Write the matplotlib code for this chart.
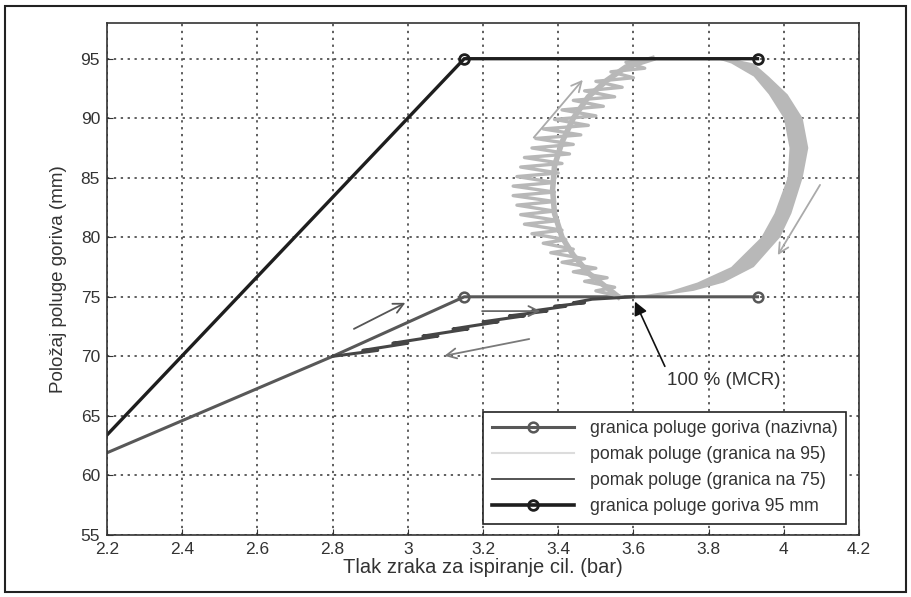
import matplotlib.pyplot as plt
from matplotlib.patches import Rectangle
from matplotlib.lines import Line2D

plt.rcParams['font.family'] = ['Liberation Sans', 'DejaVu Sans']

# granica poluge goriva (nazivna)
x_naz = [2.2, 2.8, 3.15, 3.93]
y_naz = [61.9, 70.0, 75.0, 75.0]

# granica poluge goriva 95 mm
x_95mm = [2.2, 3.15, 3.93]
y_95mm = [63.4, 95.0, 95.0]

# pomak poluge (granica na 95) - lijeva (nazubljena) strana petlje
x_p95_left = [3.57, 3.50, 3.55, 3.47, 3.53, 3.44, 3.50, 3.41, 3.47, 3.38, 3.44,
              3.36, 3.42, 3.33, 3.41, 3.31, 3.40, 3.30, 3.39, 3.29, 3.39, 3.28,
              3.39, 3.28, 3.39, 3.29, 3.40, 3.30, 3.41, 3.31, 3.43, 3.33, 3.44,
              3.34, 3.46, 3.36, 3.48, 3.39, 3.50, 3.41, 3.52, 3.44, 3.55, 3.47,
              3.57, 3.50, 3.60, 3.54, 3.63, 3.58, 3.66, 3.88]
y_p95_left = [75.0, 75.5, 75.8, 76.3, 76.6, 77.1, 77.4, 77.9, 78.2, 78.7, 79.0,
              79.5, 79.8, 80.3, 80.6, 81.1, 81.4, 81.9, 82.2, 82.7, 83.0, 83.5,
              83.8, 84.3, 84.6, 85.1, 85.4, 85.9, 86.2, 86.7, 87.0, 87.5, 87.8,
              88.3, 88.6, 89.1, 89.4, 89.9, 90.2, 90.7, 91.0, 91.5, 91.8, 92.3,
              92.6, 93.1, 93.4, 93.9, 94.2, 94.7, 95.0, 95.0]
# tijelo lijeve strane (unutarnji rub trake)
x_p95_body = [3.56, 3.52, 3.48, 3.44, 3.41, 3.39, 3.385, 3.39, 3.41, 3.44, 3.48, 3.53, 3.58, 3.65]
y_p95_body = [75.0, 76.0, 77.0, 78.5, 80.0, 82.0, 84.0, 86.0, 88.0, 90.0, 91.8, 93.2, 94.3, 95.0]
# desna strana petlje: vanjski i unutarnji rub trake
y_p95_right = [95.0, 94.6, 93.5, 92.0, 90.0, 87.5, 85.0, 82.0, 80.0, 77.5, 76.2, 75.5, 75.0]
x_p95_outer = [3.86, 3.92, 3.96, 4.01, 4.05, 4.065, 4.05, 4.02, 3.99, 3.92, 3.84, 3.76, 3.65]
x_p95_inner = [3.82, 3.86, 3.92, 3.96, 4.00, 4.015, 4.01, 3.975, 3.94, 3.86, 3.77, 3.70, 3.60]

# pomak poluge (granica na 75)
x_p75 = [2.80, 2.92, 2.88, 3.00, 2.96, 3.08, 3.04, 3.16, 3.12, 3.24, 3.20, 3.31,
         3.27, 3.37, 3.33, 3.42, 3.39, 3.47, 3.44, 3.49, 3.60]
y_p75 = [70.0, 70.5, 70.5, 71.1, 71.1, 71.7, 71.7, 72.3, 72.3, 72.9, 72.9, 73.4,
         73.4, 73.8, 73.8, 74.2, 74.2, 74.5, 74.5, 74.8, 75.0]

# strelice smjera: (x_rep, y_rep, x_glava, y_glava, boja)
arrows = [
    (2.85, 72.2, 3.00, 74.6, '#555555'),
    (3.19, 73.8, 3.36, 73.8, '#6a6a6a'),
    (3.33, 71.5, 3.09, 70.0, '#7a7a7a'),
    (3.33, 88.2, 3.47, 93.4, '#aaaaaa'),
    (4.10, 84.6, 3.98, 78.3, '#aaaaaa'),
]

c_naz, c_95, c_p95, c_p75 = '#585858', '#1e1e1e', '#b8b8b8', '#454545'

fig = plt.figure(figsize=(9.11, 5.97), dpi=100)
ax = fig.add_axes([0.1175, 0.104, 0.8255, 0.8575])
fig.patches.append(Rectangle((0.006, 0.008), 0.988, 0.982, transform=fig.transFigure,
                             fill=False, edgecolor='#222222', linewidth=1.5))

ax.plot(x_naz, y_naz, '-o', color=c_naz, lw=2.2, ms=7, mfc='none', mew=1.8,
        markevery=[2, 3])
ax.plot(x_p95_body, y_p95_body, '-', color=c_p95, lw=4)
ax.plot(x_p95_left, y_p95_left, '-', color=c_p95, lw=2.4)
ax.fill(x_p95_outer + x_p95_inner[::-1], y_p95_right + y_p95_right[::-1],
        color=c_p95, lw=0)
ax.plot(x_p75, y_p75, '-', color=c_p75, lw=2.2)
ax.plot(x_95mm, y_95mm, '-o', color=c_95, lw=2.4, ms=7, mfc='none', mew=2,
        markevery=[1, 2])

for x0, y0, x1, y1, c in arrows:
    ax.annotate('', xy=(x1, y1), xytext=(x0, y0),
                arrowprops=dict(arrowstyle='->', color=c, lw=1.3, mutation_scale=18))

ax.annotate('100 % (MCR)', xy=(3.604, 74.6), xytext=(3.69, 68.0), fontsize=13.5,
            color='#333333', va='center',
            arrowprops=dict(arrowstyle='-|>', color='#111111', lw=1.2,
                            mutation_scale=20, shrinkA=2, shrinkB=0,
                            relpos=(0.0, 1.0)))

ax.set_xlim(2.2, 4.2)
ax.set_ylim(55, 98)
ax.set_xticks([2.2, 2.4, 2.6, 2.8, 3.0, 3.2, 3.4, 3.6, 3.8, 4.0, 4.2])
ax.set_xticklabels(['2.2', '2.4', '2.6', '2.8', '3', '3.2', '3.4', '3.6', '3.8', '4', '4.2'])
ax.set_yticks([55, 60, 65, 70, 75, 80, 85, 90, 95])
ax.tick_params(direction='in', length=4, labelsize=12.5, colors='#333333', pad=5)
ax.grid(True, color='#333333', linestyle=(0, (1.5, 3)), linewidth=1.1)
for s in ax.spines.values():
    s.set_color('#333333')
    s.set_linewidth(1.2)
ax.set_axisbelow(True)

ax.set_xlabel('Tlak zraka za ispiranje cil. (bar)', fontsize=14.5, color='#333333', labelpad=1)
ax.set_ylabel('Položaj poluge goriva (mm)', fontsize=13.5, color='#333333', labelpad=10)

handles = [
    Line2D([], [], color=c_naz, lw=2.2, marker='o', ms=7, mfc='none', mew=1.8),
    Line2D([], [], color='#dcdcdc', lw=1.5),
    Line2D([], [], color=c_p75, lw=1.3),
    Line2D([], [], color=c_95, lw=2.6, marker='o', ms=7, mfc='none', mew=2),
]
labels = ['granica poluge goriva (nazivna)', 'pomak poluge (granica na 95)',
          'pomak poluge (granica na 75)', 'granica poluge goriva 95 mm']
leg = ax.legend(handles, labels, loc='lower right', bbox_to_anchor=(0.995, 0.004),
                fontsize=12.8, handlelength=4.6, frameon=True, fancybox=False,
                framealpha=1, borderpad=0.5, labelspacing=0.5, handletextpad=0.9,
                edgecolor='#222222')
leg.get_frame().set_linewidth(1.2)
for t in leg.get_texts():
    t.set_color('#333333')

fig.savefig('out.png', dpi=100)
